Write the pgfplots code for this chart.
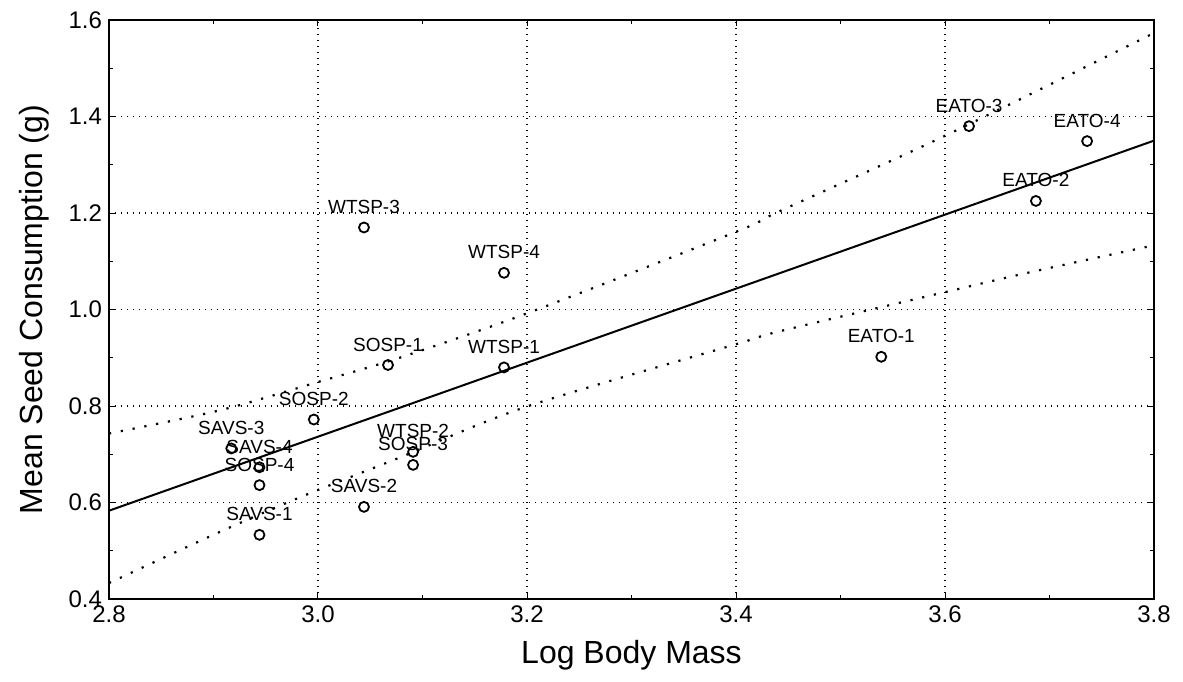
\documentclass[border=0pt]{standalone}
\usepackage{fontspec}
\setmainfont{Liberation Sans}
\usepackage{pgfplots}
\usepackage{pgfplotstable}
\pgfplotsset{compat=1.18}

\pgfplotstableread{
x y label
2.917 0.712 SAVS-3
2.944 0.673 SAVS-4
2.944 0.636 SOSP-4
2.944 0.533 SAVS-1
2.996 0.772 SOSP-2
3.044 0.591 SAVS-2
3.044 1.170 WTSP-3
3.067 0.885 SOSP-1
3.091 0.705 WTSP-2
3.091 0.678 SOSP-3
3.178 1.076 WTSP-4
3.178 0.880 WTSP-1
3.539 0.902 EATO-1
3.623 1.380 EATO-3
3.687 1.225 EATO-2
3.736 1.349 EATO-4
}\pointdata

\begin{document}
\begin{tikzpicture}
\useasboundingbox (-54.5pt,-41pt) rectangle (537pt,299.5pt);
\begin{axis}[
  scale only axis,
  width=522.5pt, height=289.5pt,
  xmin=2.8, xmax=3.8, ymin=0.4, ymax=1.6,
  xtick={2.8,3.0,3.2,3.4,3.6,3.8},
  ytick={0.4,0.6,0.8,1.0,1.2,1.4,1.6},
  minor x tick num=1, minor y tick num=1,
  tick align=inside,
  major tick length=3pt, minor tick length=2pt,
  tick style={black, line width=0.5pt},
  axis line style={black, line width=1pt},
  grid=major,
  major grid style={black, line width=0.6pt, dash pattern=on 0.6pt off 2.4pt},
  /pgf/number format/assume math mode=true,
  /pgf/number format/fixed, /pgf/number format/fixed zerofill, /pgf/number format/precision=1,
  tick label style={font=\fontsize{12}{14}\selectfont},
  xlabel={Log Body Mass},
  ylabel={Mean Seed Consumption (g)},
  every axis x label/.style={at={(axis description cs:0.5,-0.0967)}, anchor=center, font=\fontsize{16}{19}\selectfont},
  every axis y label/.style={at={(axis description cs:-0.0718,0.5)}, rotate=90, anchor=center, font=\fontsize{16}{19}\selectfont},
  clip=false,
]
% regression line
\addplot[black, line width=1pt] coordinates {(2.8,0.583) (3.8,1.350)};
% upper confidence band
\addplot[black, line width=1.1pt, dash pattern=on 1.1pt off 4.9pt, smooth] coordinates {
(2.8,0.743) (2.906,0.791) (3.002,0.851) (3.078,0.900) (3.2,0.992) (3.4,1.161) (3.442,1.204) (3.6,1.360) (3.8,1.573)};
% lower confidence band
\addplot[black, line width=1.1pt, dash pattern=on 1.1pt off 4.9pt, smooth] coordinates {
(2.8,0.433) (2.906,0.539) (2.983,0.611) (3.078,0.693) (3.2,0.799) (3.4,0.928) (3.442,0.955) (3.6,1.036) (3.681,1.077) (3.8,1.133)};
% points with labels
\addplot[only marks, mark=o, mark size=2.5pt, black, line width=0.9pt,
  nodes near coords, point meta=explicit symbolic,
  every node near coord/.append style={font=\fontsize{9.5}{11}\selectfont, anchor=center, yshift=10.25pt, inner sep=0pt, text=black}]
  table[x=x, y=y, meta=label] {\pointdata};
\end{axis}
\end{tikzpicture}
\end{document}
